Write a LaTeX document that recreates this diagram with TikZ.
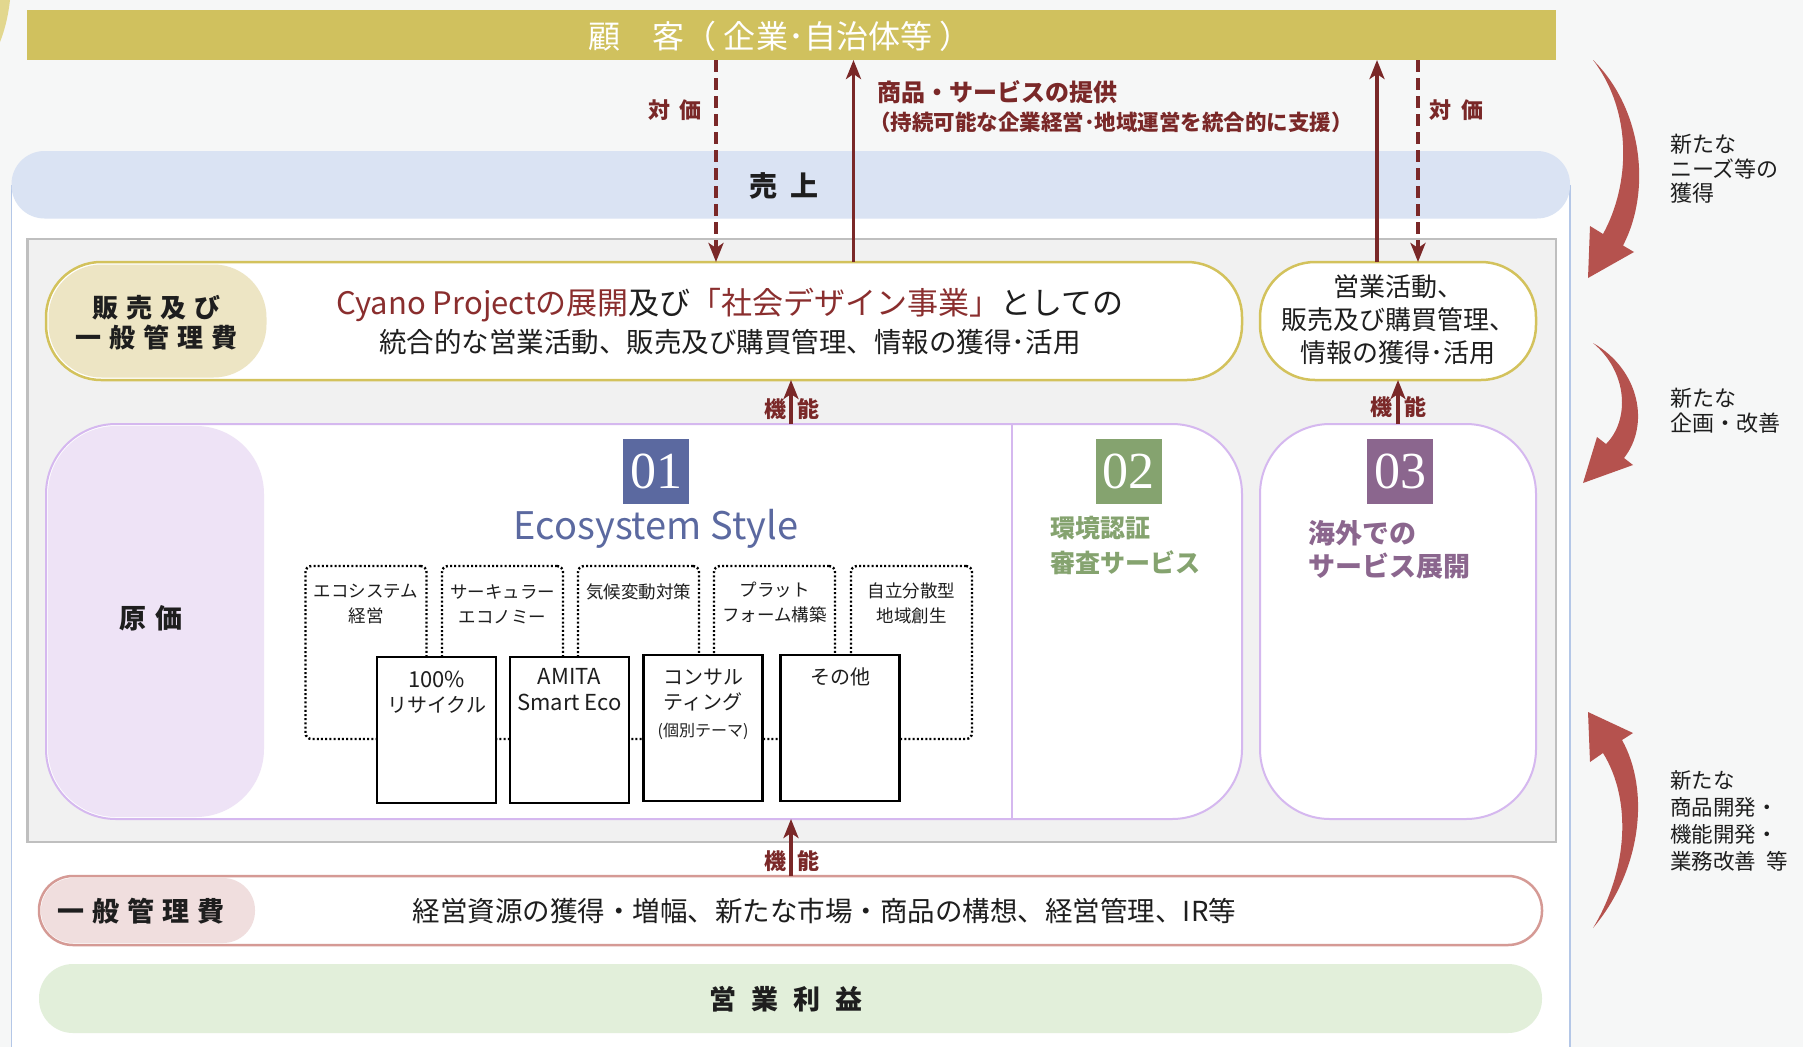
\documentclass[tikz,border=0pt]{standalone}
\usepackage{fontspec}
\setmainfont{Noto Sans CJK JP}
\newfontfamily\numfont{Liberation Serif}
\usetikzlibrary{arrows.meta}
\definecolor{bgc}{HTML}{F6F7F7}
\definecolor{bannerc}{HTML}{D0C15E}
\definecolor{yelc}{HTML}{E2D78E}
\definecolor{bandblue}{HTML}{DAE3F3}
\definecolor{frameblue}{HTML}{B4C7E7}
\definecolor{greyfill}{HTML}{F1F1F1}
\definecolor{greyline}{HTML}{BFBFBF}
\definecolor{olive}{HTML}{D3C25C}
\definecolor{beige}{HTML}{EDE5C4}
\definecolor{dred}{HTML}{7A2828}
\definecolor{dredt}{HTML}{8A2E2E}
\definecolor{lavline}{HTML}{D5B8EF}
\definecolor{lavfill}{HTML}{EEE3F6}
\definecolor{cone}{HTML}{5B69A0}
\definecolor{ctwo}{HTML}{85A36F}
\definecolor{cthree}{HTML}{8B668E}
\definecolor{pinkline}{HTML}{D59A95}
\definecolor{pinkfill}{HTML}{F0DEDE}
\definecolor{greenfill}{HTML}{E2EFDA}
\definecolor{curvred}{HTML}{B5524E}
\definecolor{txtc}{HTML}{1E1E1E}
\newcommand\fsz[2]{\fontsize{#1}{#2}\selectfont}
\begin{document}
\begin{tikzpicture}[x=1pt,y=-1pt,
  every node/.style={inner sep=0pt,outer sep=0pt,text=txtc},
  shp/.style={rectangle,inner sep=0pt},
  lbl/.style={font=\bfseries\fsz{27}{32}},
  darrow/.style={draw=dred,line width=3.5,dash pattern=on 12pt off 6pt,-{Stealth[length=19pt,width=15pt,inset=5pt]}},
  sarrow/.style={draw=dred,line width=3.5,-{Stealth[length=19pt,width=15pt,inset=5pt]}},
  redlbl/.style={text=dred,font=\bfseries\fsz{22}{22}},
  dotbox/.style={shp,draw=black,line width=2.4,dash pattern=on 2pt off 2.2pt,rounded corners=6,minimum width=121,minimum height=173},
  dottxt/.style={font=\fsz{17.5}{25},align=center},
  solbox/.style={shp,draw=black,line width=2.4,fill=white,minimum width=119,minimum height=146},
  soltxt/.style={font=\fsz{20}{25},align=center},
  badge/.style={shp,minimum width=66,minimum height=65,text=white,font=\numfont\fsz{52}{52}},
  sidetxt/.style={font=\fsz{22}{25.5},align=left,anchor=west},
]
\useasboundingbox (0,0) rectangle (1803,1047);
\fill[bgc] (0,0) rectangle (1803,1047);
\fill[yelc] (0,0) -- (10,0) .. controls (8,18) and (4,32) .. (0,42) -- cycle;

% banner
\node[shp,fill=bannerc,minimum width=1529,minimum height=50] (banner) at (791.5,35) {};
\node[text=white,font=\fsz{32}{32}] (bannertxt) at (780,36) {顧　客（ 企業･自治体等 ）};

% frame and band
\fill[white] (11.5,185) rectangle (1570,1047);
\draw[frameblue,line width=1.5] (11.5,185) -- (11.5,1047) (1570,185) -- (1570,1047);
\node[shp,fill=bandblue,rounded corners=33,minimum width=1558.5,minimum height=67.5] (band) at (790.75,184.75) {};
\node[font=\bfseries\fsz{28}{28}] (bandtxt) at (784,186) {売\hspace{13pt}上};

% grey area
\node[shp,fill=greyfill,draw=greyline,line width=2.5,minimum width=1528.4,minimum height=603] (grey) at (791.8,540.5) {};

% sales box
\node[shp,fill=white,draw=olive,line width=2.5,rounded corners=55,minimum width=1196,minimum height=118] (sales) at (644,321) {};
\node[shp,fill=beige,rounded corners=53,minimum width=218,minimum height=113] (salespill) at (157.5,321) {};
\node[font=\bfseries\fsz{26}{30},align=center] (salespilltxt) at (156.5,323) {販\hspace{8pt}売\hspace{8pt}及\hspace{8pt}び\\一\hspace{8pt}般\hspace{8pt}管\hspace{8pt}理\hspace{8pt}費};
\node[font=\fsz{31}{31}] (salestxta) at (730,305) {\textcolor{dredt}{Cyano Projectの展開}及び\textcolor{dredt}{「社会デザイン事業」}としての};
\node[font=\fsz{27.5}{27.5}] (salestxtb) at (730,342) {統合的な営業活動、販売及び購買管理、情報の獲得･活用};

\node[shp,fill=white,draw=olive,line width=2.5,rounded corners=55,minimum width=276,minimum height=118] (salesr) at (1398,321) {};
\node[font=\fsz{26}{33},align=center] (salesrtxt) at (1398,320) {営業活動、\\販売及び購買管理、\\情報の獲得･活用};

% middle box
\node[shp,fill=white,draw=lavline,line width=2,rounded corners=70,minimum width=1196,minimum height=395] (mid) at (644,621.5) {};
\node[shp,fill=lavfill,rounded corners=68,minimum width=216,minimum height=391] (costpill) at (156,621.5) {};
\node[lbl] (costtxt) at (151,618) {原\hspace{9pt}価};
\coordinate (divx) at (1012,0);
\draw[lavline,line width=2] (mid.north -| divx) -- (mid.south -| divx);
\node[shp,fill=white,draw=lavline,line width=2,rounded corners=70,minimum width=276,minimum height=395] (box3) at (1398,621.5) {};

% badges
\node[badge,fill=cone] (b1) at (656,471.5) {01};
\node[badge,fill=ctwo] (b2) at (1128.5,471.5) {02};
\node[badge,fill=cthree] (b3) at (1400,471.5) {03};
\node[text=cone,font=\fsz{38}{38}] (ecotxt) at (656,529) {Ecosystem Style};
\node[text=ctwo,font=\bfseries\fsz{25}{35},align=left,anchor=west] (t2) at (1050,546) {環境認証\\審査サービス};
\node[text=cthree,font=\bfseries\fsz{27}{33},align=left,anchor=west] (t3) at (1308,550) {海外での\\サービス展開};

% dotted boxes
\node[dotbox] (d1) at (366,652.5) {};
\node[dotbox] (d2) at (502.5,652.5) {};
\node[dotbox] (d3) at (638.5,652.5) {};
\node[dotbox] (d4) at (774.5,652.5) {};
\node[dotbox] (d5) at (911.5,652.5) {};
\node[dottxt] (d1t) at (366,604) {エコシステム\\経営};
\node[dottxt] (d2t) at (502.5,604) {サーキュラー\\エコノミー};
\node[dottxt] (d3t) at (638.5,592) {気候変動対策};
\node[dottxt] (d4t) at (774.5,602) {プラット\\フォーム構築};
\node[dottxt] (d5t) at (911.5,603) {自立分散型\\地域創生};

% solid boxes
\node[solbox] (s1) at (436.5,730) {};
\node[solbox] (s2) at (569.5,730) {};
\node[solbox] (s3) at (703,728) {};
\node[solbox] (s4) at (840,728) {};
\node[soltxt] (s1t) at (436.5,692) {{\fsz{22}{25}\selectfont 100\%}\\リサイクル};
\node[soltxt,font=\fsz{22}{26}] (s2t) at (569.5,690) {AMITA\\Smart Eco};
\node[soltxt] (s3t) at (703,689.5) {コンサル\\ティング};
\node[font=\fsz{16}{16}] (s3u) at (703,731) {(個別テーマ)};
\node[soltxt] (s4t) at (840,677) {その他};

% lower boxes
\node[shp,fill=white,draw=pinkline,line width=2.5,rounded corners=34,minimum width=1503,minimum height=69] (gen) at (790.5,910.5) {};
\node[shp,fill=pinkfill,rounded corners=32,minimum width=214,minimum height=65] (genpill) at (148,910.5) {};
\node[lbl] (genpilltxt) at (141,911) {一\hspace{8pt}般\hspace{8pt}管\hspace{8pt}理\hspace{8pt}費};
\node[font=\fsz{27.5}{27.5}] (gentxt) at (824.5,911) {経営資源の獲得・増幅、新たな市場・商品の構想、経営管理、IR等};
\node[shp,fill=greenfill,rounded corners=34,minimum width=1503,minimum height=69] (profit) at (790.5,998.5) {};
\node[lbl] (profittxt) at (786,999) {営\hspace{15pt}業\hspace{15pt}利\hspace{15pt}益};

% connectors
\coordinate (xa) at (716,0);
\coordinate (xb) at (853.5,0);
\coordinate (xc) at (1377,0);
\coordinate (xd) at (1418,0);
\coordinate (xfa) at (791,0);
\coordinate (xfb) at (1398,0);
\draw[darrow] (banner.south -| xa) -- (sales.north -| xa);
\draw[sarrow] (sales.north -| xb) -- (banner.south -| xb);
\draw[sarrow] (salesr.north -| xc) -- (banner.south -| xc);
\draw[darrow] (banner.south -| xd) -- (salesr.north -| xd);
\draw[sarrow] (mid.north -| xfa) -- (sales.south -| xfa);
\draw[sarrow] (box3.north -| xfb) -- (salesr.south -| xfb);
\draw[sarrow] (gen.north -| xfa) -- (mid.south -| xfa);

\node[redlbl] (tva) at (675,110) {対\hspace{10pt}価};
\node[redlbl] (tvb) at (1456,110) {対\hspace{10pt}価};
\node[redlbl,font=\bfseries\fsz{24}{24},anchor=west] (prova) at (877,92) {商品・サービスの提供};
\node[redlbl,font=\bfseries\fsz{21.5}{21.5},anchor=west] (provb) at (869,122) {（持続可能な企業経営･地域運営を統合的に支援）};
\node[redlbl,anchor=east] (kaa) at (786,409) {機};
\node[redlbl,anchor=west] (kab) at (797,409) {能};
\node[redlbl,anchor=east] (kba) at (1392,407) {機};
\node[redlbl,anchor=west] (kbb) at (1404,407) {能};
\node[redlbl,anchor=east] (kca) at (786,861) {機};
\node[redlbl,anchor=west] (kcb) at (797,861) {能};

% curved arrows
\fill[curvred] (1593,60) .. controls (1642,108) and (1652,190) .. (1623,245.5) -- (1634,252) -- (1588,278) -- (1590,226) -- (1603,234) .. controls (1630,185) and (1633,112) .. (1593,60) -- cycle;
\fill[curvred] (1593,343) .. controls (1640,370) and (1650,425) .. (1624,458) -- (1633,465) -- (1583,483) -- (1597,437) -- (1606,444) .. controls (1630,420) and (1628,372) .. (1593,343) -- cycle;
\fill[curvred] (1593,928) .. controls (1642,870) and (1650,790) .. (1622,740) -- (1633,733) -- (1588,712) -- (1590,762) -- (1603,753) .. controls (1632,800) and (1628,870) .. (1593,928) -- cycle;
\node[sidetxt,font=\fsz{22}{24.5}] (na) at (1670,169) {新たな\\ニーズ等の\\獲得};
\node[sidetxt,font=\fsz{22}{25}] (nb) at (1670,411) {新たな\\企画・改善};
\node[sidetxt,font=\fsz{21.5}{27}] (nc) at (1670,821) {新たな\\商品開発・\\機能開発・\\業務改善\hspace{0.5em}等};
\end{tikzpicture}
\end{document}
